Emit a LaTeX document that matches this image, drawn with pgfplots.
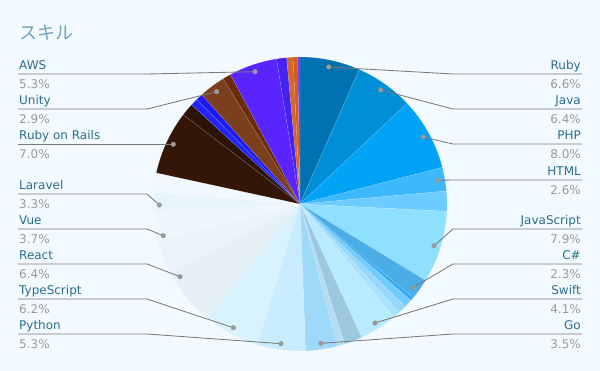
\documentclass[border=0pt]{standalone}
\usepackage{pgfplots}
\pgfplotsset{compat=1.18}
\usepackage{pgfplotstable}
\usepackage{fontspec}
\setmainfont{DejaVu Sans}
\newfontfamily\cjk{Noto Sans CJK JP}

\definecolor{bgcol}{HTML}{F3FAFF}
\definecolor{namecol}{HTML}{2A6E89}
\definecolor{pctcol}{HTML}{9A9A9A}
\definecolor{titlecol}{HTML}{6EA3B8}
\definecolor{leadcol}{HTML}{7A7A7A}
\definecolor{dotcol}{HTML}{999999}

\definecolor{cRuby}{HTML}{0072B2}
\definecolor{cJava}{HTML}{008FD6}
\definecolor{cPHP}{HTML}{00A3F5}
\definecolor{cHTML}{HTML}{3DB8FC}
\definecolor{cUa}{HTML}{6CCBFF}
\definecolor{cJS}{HTML}{8FDFFF}
\definecolor{cCS}{HTML}{4BADE6}
\definecolor{cUb}{HTML}{36A9F2}
\definecolor{cUc}{HTML}{70CCFF}
\definecolor{cUd}{HTML}{96D7FA}
\definecolor{cUe}{HTML}{A9E2FD}
\definecolor{cSwift}{HTML}{B9EBFF}
\definecolor{cUf}{HTML}{9BC7DF}
\definecolor{cUg}{HTML}{B2DDF2}
\definecolor{cGo}{HTML}{9FD9FA}
\definecolor{cPython}{HTML}{C8EBFD}
\definecolor{cTS}{HTML}{D8F2FE}
\definecolor{cReact}{HTML}{E6F1F7}
\definecolor{cVue}{HTML}{EAF5FB}
\definecolor{cLaravel}{HTML}{EDF7FC}
\definecolor{cUh}{HTML}{E9F5FC}
\definecolor{cUi}{HTML}{F1F9FE}
\definecolor{cRoR}{HTML}{331606}
\definecolor{cUj}{HTML}{2B1305}
\definecolor{cUk}{HTML}{2424FF}
\definecolor{cUl}{HTML}{1C1CEE}
\definecolor{cUnity}{HTML}{7B3F1E}
\definecolor{cUm}{HTML}{6B2B05}
\definecolor{cAWS}{HTML}{5A24FF}
\definecolor{cUn}{HTML}{4422F0}
\definecolor{cUo}{HTML}{D06830}
\definecolor{cUp}{HTML}{D95A12}
\definecolor{cUq}{HTML}{7038FF}

% slices clockwise from 12 o'clock
\pgfplotstableread{
pct  col
6.6  cRuby
6.4  cJava
8.0  cPHP
2.6  cHTML
2.2  cUa
7.9  cJS
2.3  cCS
0.4  cUb
0.9  cUc
0.9  cUd
0.8  cUe
4.1  cSwift
2.0  cUf
0.8  cUg
3.5  cGo
5.3  cPython
6.2  cTS
6.4  cReact
3.7  cVue
3.3  cLaravel
2.0  cUh
2.1  cUi
7.0  cRoR
1.4  cUj
0.8  cUk
0.75 cUl
2.9  cUnity
0.9  cUm
5.3  cAWS
1.1  cUn
0.7  cUo
0.5  cUp
0.25 cUq
}\slices

\begin{document}
\begin{tikzpicture}
\begin{axis}[width=600pt, height=371pt, scale only axis,
  xmin=0, xmax=600, ymin=0, ymax=371, y dir=reverse,
  hide axis, clip=false]
\fill[bgcol] (axis cs:0,0) rectangle (axis cs:600,371);

\pgfplotstablegetrowsof{\slices}
\pgfmathtruncatemacro\nrows{\pgfplotsretval-1}
\def\cum{0}
\pgfplotsforeachungrouped \i in {0,...,\nrows}{%
  \pgfplotstablegetelem{\i}{pct}\of\slices \let\slicepct\pgfplotsretval
  \pgfplotstablegetelem{\i}{col}\of\slices \let\slicecol\pgfplotsretval
  \pgfmathsetmacro\angA{90-3.6*\cum}%
  \pgfmathsetmacro\angB{90-3.6*(\cum+\slicepct)}%
  \edef\temp{\noexpand\fill[\slicecol, draw=white, draw opacity=0.22, line width=0.4pt]
    (axis cs:300,204) -- +(\angA:147pt) arc[start angle=\angA, end angle=\angB, radius=147pt] -- cycle;}%
  \temp
  \pgfmathsetmacro\cum{\cum+\slicepct}%
}

% leader lines
\pgfplotsset{leader/.style={leadcol, line width=0.85pt, no marks}}
% left
\addplot[leader] coordinates {(255,71.7) (147,74) (18,74)};
\addplot[leader] coordinates {(216.7,91.7) (147,109) (18,109)};
\addplot[leader] coordinates {(173.3,144.3) (147,144.3) (18,144.3)};
\addplot[leader] coordinates {(159.3,205) (147,194) (18,194)};
\addplot[leader] coordinates {(163.3,235.7) (147,229) (18,229)};
\addplot[leader] coordinates {(180,276.7) (147,264) (18,264)};
\addplot[leader] coordinates {(233.3,327.7) (147,299) (18,299)};
\addplot[leader] coordinates {(281,343.7) (147,334) (18,334)};
% right
\addplot[leader] coordinates {(328.7,67) (453,74) (582,74)};
\addplot[leader] coordinates {(380.7,90) (453,109) (582,109)};
\addplot[leader] coordinates {(423,137) (453,144) (582,144)};
\addplot[leader] coordinates {(438,180.3) (453,180) (582,180)};
\addplot[leader] coordinates {(434,245.7) (453,229) (582,229)};
\addplot[leader] coordinates {(413.3,287.3) (453,264) (582,264)};
\addplot[leader] coordinates {(375,323) (453,299) (582,299)};
\addplot[leader] coordinates {(321,343.3) (453,334) (582,334)};

% dots
\addplot[only marks, mark=*, mark size=2.3pt, mark options={fill=dotcol, draw=dotcol}] coordinates {
(255,71.7) (216.7,91.7) (173.3,144.3) (159.3,205) (163.3,235.7) (180,276.7) (233.3,327.7) (281,343.7)
(328.7,67) (380.7,90) (423,137) (438,180.3) (434,245.7) (413.3,287.3) (375,323) (321,343.3)};

% title
\node[anchor=base west, inner sep=0pt, text=titlecol, font=\cjk\fontsize{18}{20}\selectfont] at (axis cs:19,40) {スキル};

% left labels
\foreach \nm/\pc/\ly in {AWS/5.3/74, Unity/2.9/109, Ruby on Rails/7.0/144, Laravel/3.3/194, Vue/3.7/229, React/6.4/264, TypeScript/6.2/299, Python/5.3/334}{
  \edef\temp{\noexpand\node[anchor=base west, inner sep=0pt, text=namecol, font=\noexpand\fontsize{12}{14}\noexpand\selectfont] at (axis cs:19,\ly-4) {\nm};
  \noexpand\node[anchor=base west, inner sep=0pt, text=pctcol, font=\noexpand\fontsize{12}{14}\noexpand\selectfont] at (axis cs:19,\ly+14.5) {\pc\noexpand\%};}
  \temp
}
% right labels
\foreach \nm/\pc/\ly in {Ruby/6.6/74, Java/6.4/109, PHP/8.0/144, HTML/2.6/180, JavaScript/7.9/229, C\#/2.3/264, Swift/4.1/299, Go/3.5/334}{
  \edef\temp{\noexpand\node[anchor=base east, inner sep=0pt, text=namecol, font=\noexpand\fontsize{12}{14}\noexpand\selectfont] at (axis cs:581,\ly-4) {\nm};
  \noexpand\node[anchor=base east, inner sep=0pt, text=pctcol, font=\noexpand\fontsize{12}{14}\noexpand\selectfont] at (axis cs:581,\ly+14.5) {\pc\noexpand\%};}
  \temp
}
\end{axis}
\end{tikzpicture}
\end{document}
